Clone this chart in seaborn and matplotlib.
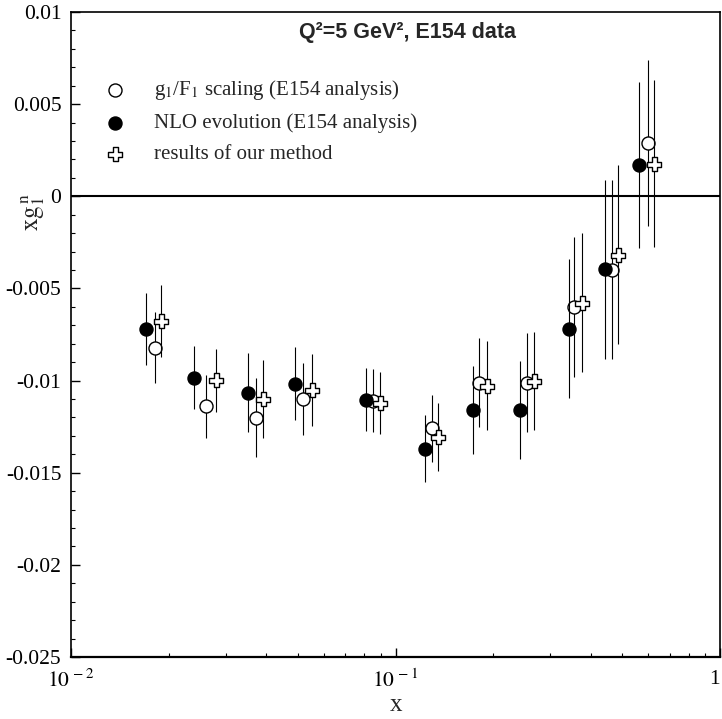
import matplotlib
matplotlib.use("Agg")
import matplotlib.pyplot as plt
import numpy as np
import seaborn as sns
from matplotlib.path import Path
from matplotlib.ticker import FixedLocator, FuncFormatter, MultipleLocator

# E154 neutron xg1 at Q^2 = 5 GeV^2, three analyses (units of 1e-3)
x_scaling = [0.0181, 0.0261, 0.0371, 0.0520, 0.0852, 0.1293, 0.1813, 0.2537, 0.3556, 0.4648, 0.5999]
y_scaling = [-8.21, -11.39, -12.01, -11.01, -11.09, -12.60, -10.11, -10.11, -6.01, -3.98, 2.90]
err_scaling = [1.94, 1.71, 2.13, 1.94, 1.70, 1.84, 2.40, 2.67, 3.78, 4.85, 4.51]

x_nlo = [0.0170, 0.0240, 0.0351, 0.0491, 0.0813, 0.1233, 0.1729, 0.2419, 0.3426, 0.4422, 0.5641]
y_nlo = [-7.18, -9.84, -10.65, -10.16, -11.03, -13.69, -11.61, -11.61, -7.18, -3.96, 1.72]
err_nlo = [1.95, 1.69, 2.14, 1.97, 1.70, 1.84, 2.40, 2.65, 3.75, 4.87, 4.50]

x_ours = [0.0190, 0.0280, 0.0391, 0.0552, 0.0894, 0.1355, 0.1910, 0.2678, 0.3749, 0.4839, 0.6275]
y_ours = [-6.78, -9.98, -11.01, -10.53, -11.22, -13.06, -10.27, -10.02, -5.77, -3.16, 1.77]
err_ours = [1.96, 1.70, 2.13, 1.96, 1.68, 1.84, 2.40, 2.64, 3.76, 4.84, 4.52]

labels = [
    r"g$_1$/F$_1$ scaling (E154 analysis)",
    "NLO evolution (E154 analysis)",
    "results of our method",
]

x_tick_labels = {0.01: r"$10^{\,-2}$", 0.1: r"$10^{\,-1}$", 1: "1"}


def hollow_plus(w=0.36):
    verts = [(-w, 1), (w, 1), (w, w), (1, w), (1, -w), (w, -w), (w, -1),
             (-w, -1), (-w, -w), (-1, -w), (-1, w), (-w, w), (-w, 1)]
    codes = [Path.MOVETO] + [Path.LINETO] * 11 + [Path.CLOSEPOLY]
    return Path(verts, codes)


def main():
    sns.set_theme(style="ticks")
    plt.rcParams["font.family"] = ["Liberation Serif", "DejaVu Serif"]
    plt.rcParams["mathtext.fontset"] = "stix"
    plt.rcParams["axes.edgecolor"] = "black"

    fig = plt.figure(figsize=(7.22, 7.19), dpi=100)
    ax = fig.add_axes([71 / 722, 1 - 657 / 719, 649 / 722, 645 / 719])
    ax.set_xscale("log")

    ax.axhline(0, color="black", lw=1.5, zorder=1)

    series = [
        # x, y, err, face, marker, size, zorder
        (x_scaling, y_scaling, err_scaling, "white", "o", 88, 3),
        (x_nlo, y_nlo, err_nlo, "black", "o", 88, 4),
        (x_ours, y_ours, err_ours, "white", hollow_plus(), 100, 5),
    ]
    for (xs, ys, es, face, marker, size, z), label in zip(series, labels):
        yv = np.array(ys) * 1e-3
        ev = np.array(es) * 1e-3
        ax.errorbar(xs, yv, yerr=ev, fmt="none", ecolor="black", elinewidth=0.8,
                    capsize=0, zorder=z)
        sns.scatterplot(x=xs, y=yv, ax=ax, marker=marker, s=size, color=face,
                        edgecolor="black", linewidth=1.0, zorder=z + 0.5, label=label)

    ax.set_xlim(0.01, 1)
    ax.set_ylim(-0.025, 0.01)

    ax.xaxis.set_major_locator(FixedLocator([0.01, 0.1, 1]))
    ax.xaxis.set_major_formatter(FuncFormatter(
        lambda v, _: x_tick_labels.get(round(v, 4), "")))
    ax.yaxis.set_major_locator(MultipleLocator(0.005))
    ax.yaxis.set_minor_locator(MultipleLocator(0.001))
    ax.yaxis.set_major_formatter(FuncFormatter(lambda v, _: f"{round(v, 4) + 0:g}"))

    ax.tick_params(which="both", direction="in", top=False, right=False,
                   colors="black", labelsize=15.5)
    ax.tick_params(axis="y", pad=7)
    ax.tick_params(axis="x", pad=9)
    ax.tick_params(which="major", length=6.5, width=1.0)
    ax.tick_params(which="minor", length=3, width=0.8)
    ax.tick_params(axis="x", which="minor", labelbottom=False)

    # the "1" sits on the figure edge; right-align it so it isn't clipped
    ax.xaxis.get_major_ticks()[-1].label1.set_horizontalalignment("right")

    for side in ["top", "right", "left"]:
        ax.spines[side].set_linewidth(1.2)
    ax.spines["bottom"].set_linewidth(1.6)

    ax.text(0.519, 0.968, "Q²=5 GeV², E154 data", transform=ax.transAxes,
            ha="center", va="center", fontsize=15.5, fontweight="bold",
            family=["Liberation Sans", "DejaVu Sans"])

    fig.text(396 / 722, 1 - 705 / 719, "x", ha="center", va="center", fontsize=18)
    fig.text(33 / 722, 1 - 212 / 719, r"$\mathrm{xg}_1^{\,\mathrm{n}}$", rotation=90,
             ha="center", va="center", fontsize=18)

    ax.legend(loc="upper left", bbox_to_anchor=(0.0518, 0.8974), frameon=False,
              fontsize=15, borderpad=0, borderaxespad=0, handlelength=1.0,
              handletextpad=1.35, labelspacing=0.55)

    fig.savefig("out.png", dpi=100)


if __name__ == "__main__":
    main()
